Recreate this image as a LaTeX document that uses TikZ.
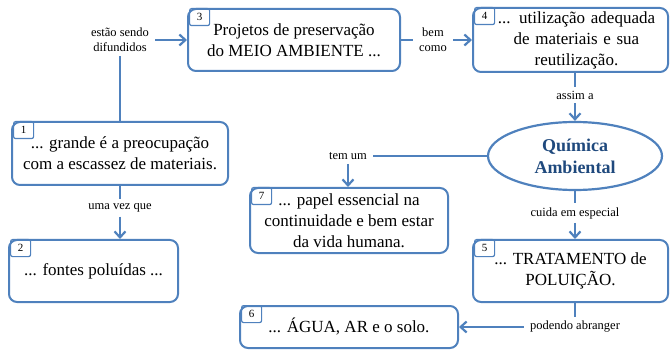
\documentclass[tikz,border=0pt]{standalone}
\usepackage{fontspec}
\setmainfont{Liberation Serif}
\usetikzlibrary{shapes.geometric,arrows.meta}
\definecolor{mapblue}{RGB}{79,129,189}
\definecolor{mapnavy}{RGB}{31,73,125}

\tikzset{
  concept/.style={draw=mapblue, line width=2, rounded corners=8, align=center,
    font=\fontsize{17}{21}\selectfont, inner sep=0},
  link/.style={align=center, font=\fontsize{12.5}{15}\selectfont, inner xsep=6, inner ysep=4},
  tab/.style={draw=mapblue, line width=1.2, rounded corners=2, anchor=north west,
    font=\fontsize{11}{11}\selectfont, minimum width=20, minimum height=17, inner sep=0},
  conn/.style={draw=mapblue, line width=2.2},
  arr/.style={conn, -{Straight Barb[length=6,width=11]}}
}

\begin{document}
\begin{tikzpicture}[x=1pt, y=-1pt]
  \useasboundingbox (0,0) rectangle (670,350);

  % Concepts
  \node[concept, minimum width=212, minimum height=62] (pres) at (294,40) {Projetos de preservação\\do MEIO AMBIENTE ...};
  \node[concept, minimum width=195, minimum height=64, text width=180] (util) at (570.5,40) {\centering\hspace*{12pt}... utilização adequada\\\hspace*{12pt}de materiais e sua\\\hspace*{12pt}reutilização.};
  \node[concept, minimum width=216, minimum height=63] (preoc) at (120,153.5) {... grande é a preocupação\\com a escassez de materiais.};
  \node[concept, minimum width=169, minimum height=62] (fontes) at (93.5,271) {... fontes poluídas ...};
  \node[concept, minimum width=198, minimum height=65] (papel) at (349,220.5) {... papel essencial na\\continuidade e bem estar\\da vida humana.};
  \node[concept, minimum width=195, minimum height=62] (trat) at (570.5,271) {... TRATAMENTO de\\POLUIÇÃO.};
  \node[concept, minimum width=218, minimum height=42] (agua) at (349,327) {... ÁGUA, AR e o solo.};
  \node[ellipse, draw=mapblue, line width=2.2, minimum width=174, minimum height=68, inner sep=0,
    align=center, text=mapnavy, font=\bfseries\fontsize{18}{22}\selectfont] (quim) at (575,156) {Química\\Ambiental};

  % Number tabs
  \node[tab] (n3) at ([xshift=2]pres.north west) {3};
  \node[tab] (n4) at ([xshift=2]util.north west) {4};
  \node[tab] (n1) at ([xshift=2]preoc.north west) {1};
  \node[tab] (n2) at ([xshift=2]fontes.north west) {2};
  \node[tab] (n7) at ([xshift=2]papel.north west) {7};
  \node[tab] (n5) at ([xshift=2]trat.north west) {5};
  \node[tab] (n6) at ([xshift=2]agua.north west) {6};

  % Linking phrases
  \node[link] (difund) at (120,40) {estão sendo\\difundidos};
  \node[link] (bem) at (433,40) {bem\\como};
  \node[link] (assim) at (575,95) {assim a};
  \node[link] (temum) at (348,156) {tem um};
  \node[link] (cuida) at (575,213) {cuida em especial};
  \node[link] (umavez) at (120,208) {uma vez que};
  \node[link] (podendo) at (575,327) {podendo abranger};

  % Connectors
  \draw[conn] (difund) -- (preoc);
  \draw[arr] (difund) -- (pres);
  \draw[conn] (pres) -- (bem);
  \draw[arr] (bem) -- (util);
  \draw[conn] (assim.north |- util.south) -- (assim);
  \draw[arr] (assim) -- (quim);
  \draw[conn] (quim) -- (temum);
  \draw[arr] (temum) -- (temum.south |- papel.north);
  \draw[conn] (quim) -- (cuida);
  \draw[arr] (cuida) -- (cuida.south |- trat.north);
  \draw[conn] (preoc) -- (umavez);
  \draw[arr] (umavez) -- (umavez.south |- fontes.north);
  \draw[conn] (podendo.north |- trat.south) -- (podendo);
  \draw[arr] (podendo) -- (agua);
\end{tikzpicture}
\end{document}
